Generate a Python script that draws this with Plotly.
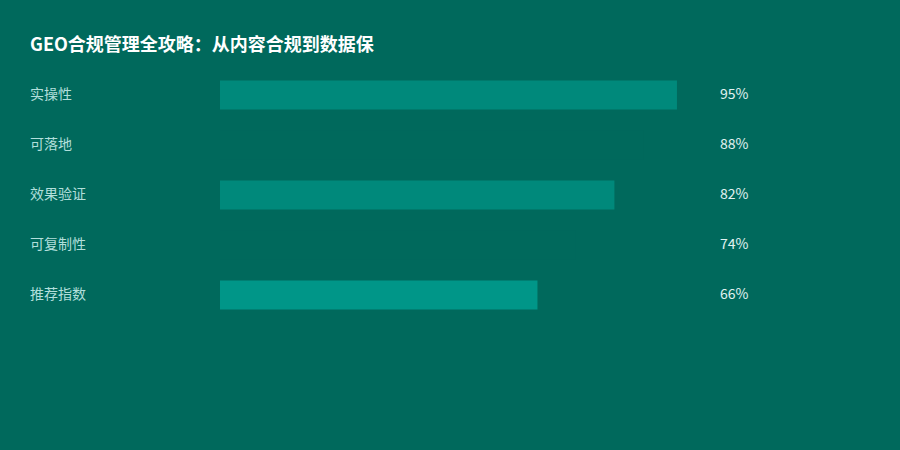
import plotly.graph_objects as go

# data
categories = ['实操性', '可落地', '效果验证', '可复制性', '推荐指数']
values = [95, 88, 82, 74, 66]
value_labels = ['95%', '88%', '82%', '74%', '66%']
bar_colors = ['#00897B', '#00695C', '#00897B', '#00695C', '#009688']

BG = '#00695C'
W, H = 900, 450
FONT = 'Noto Sans CJK SC, Noto Sans, sans-serif'

fig = go.Figure()
fig.add_trace(go.Bar(
    x=values, y=categories, orientation='h',
    marker=dict(color=bar_colors, line=dict(width=0)),
    hoverinfo='skip', showlegend=False,
))

# category labels on the left and value labels on the right
for cat, lab in zip(categories, value_labels):
    fig.add_annotation(x=30 / W, xref='paper', y=cat, yref='y', text=cat,
                       showarrow=False, xanchor='left', yanchor='middle',
                       xshift=-2, yshift=2,
                       font=dict(family=FONT, size=14, color='#B2DFDB'))
    fig.add_annotation(x=720 / W, xref='paper', y=cat, yref='y', text=lab,
                       showarrow=False, xanchor='left', yanchor='middle',
                       xshift=-2, yshift=2,
                       font=dict(family=FONT, size=14, color='#E0F2F1'))

fig.update_layout(
    width=W, height=H,
    paper_bgcolor=BG, plot_bgcolor=BG,
    margin=dict(l=0, r=0, t=0, b=0),
    bargap=0.42,
    title=dict(text='<b>GEO合规管理全攻略：从内容合规到数据保</b>',
               x=30 / W, xanchor='left', y=1 - 45 / H, yanchor='middle',
               font=dict(family=FONT, size=18, color='#FFFFFF')),
    xaxis=dict(domain=[220 / W, 701 / W], range=[0, 100], visible=False,
               fixedrange=True),
    yaxis=dict(domain=[(H - 320) / H, (H - 70) / H], range=[4.5, -0.5],
               visible=False, fixedrange=True,
               categoryorder='array', categoryarray=categories),
)

# drop the default page margin so the chart fills the window
fig.write_html("out.html", config={'displayModeBar': False},
               post_script="document.body.style.margin='0';"
                           "document.body.style.background='%s';" % BG)
